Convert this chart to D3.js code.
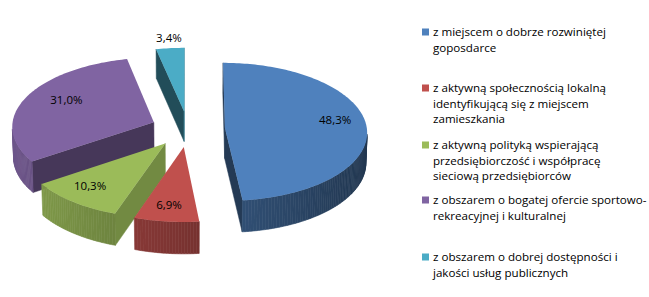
<!DOCTYPE html>
<html>
<head>
<meta charset="utf-8">
<script src="https://cdn.jsdelivr.net/npm/d3@7"></script>
<style>
  body { margin: 0; background: #fff; }
  svg { display: block; font-family: "Open Sans", "Liberation Sans", sans-serif; }
</style>
</head>
<body>
<script>
// data
const categories = [
    ["z miejscem o dobrze rozwiniętej", "goposdarce"],
    ["z aktywną społecznością lokalną", "identyfikującą się z miejscem", "zamieszkania"],
    ["z aktywną polityką wspierającą", "przedsiębiorczość i współpracę", "sieciową przedsiębiorców"],
    ["z obszarem o bogatej ofercie sportowo-", "rekreacyjnej i kulturalnej"],
    ["z obszarem o dobrej dostępności i", "jakości usług publicznych"]
];
const values = [48.3, 6.9, 10.3, 31.0, 3.4];
const labels = ["48,3%", "6,9%", "10,3%", "31,0%", "3,4%"];
const colors = ["#4F81BD", "#C0504D", "#9BBB59", "#8064A2", "#4BACC6"];

const width = 649, height = 297;

// 3d view settings
const R = 142, H = 35, D = 2300, explode = 37;
const phi = 29 * Math.PI / 180;
const cx = 188, cy = 129;

const svg = d3.select("body").append("svg")
    .attr("width", width)
    .attr("height", height);

const arcs = d3.pie().sort(null).value(d => d)(values);

function proj(x, y, z) {
    const depth = D - (y * Math.sin(phi) + z * Math.cos(phi));
    const s = D / depth;
    return [cx + x * s, cy - (y * Math.cos(phi) - z * Math.sin(phi)) * s];
}

function shade(c, k) {
    const col = d3.rgb(c);
    return d3.rgb(col.r * k, col.g * k, col.b * k).formatHex();
}

const camera = [0, D * Math.sin(phi), D * Math.cos(phi)];

arcs.forEach((a, i) => {
    const m = (a.startAngle + a.endAngle) / 2;
    a.index = i;
    a.ox = explode * Math.sin(m);
    a.oz = -explode * Math.cos(m);
    // depth of the slice centre, used to paint back to front
    a.cz = a.oz - R * 0.5 * Math.cos(m);
});

const order = arcs.slice().sort((a, b) => a.cz - b.cz);

const line = d3.line();
const g = svg.append("g");

order.forEach(a => {
    const col = colors[a.index];
    const pt = (t, r, y) => proj(a.ox + r * Math.sin(t), y, a.oz - r * Math.cos(t));
    const sg = g.append("g");

    // radial walls
    [[a.startAngle, -1], [a.endAngle, 1]].forEach(([t, side]) => {
        const nx = side < 0 ? -Math.cos(t) : Math.cos(t);
        const nz = side < 0 ? -Math.sin(t) : Math.sin(t);
        const vis = (camera[0] - a.ox) * nx + (camera[2] - a.oz) * nz;
        if (vis <= 0) return;
        const k = 0.45 + 0.32 * Math.pow(Math.max(0, nx), 2);
        sg.append("path")
            .attr("d", line([pt(t, 0, 0), pt(t, R, 0), pt(t, R, -H), pt(t, 0, -H)]) + "Z")
            .attr("fill", shade(col, k))
            .attr("stroke", shade(col, k))
            .attr("stroke-width", 0.5);
    });

    // outer wall in small pieces
    const n = Math.max(2, Math.ceil((a.endAngle - a.startAngle) / 0.02));
    for (let j = 0; j < n; j++) {
        const t0 = a.startAngle + (a.endAngle - a.startAngle) * j / n;
        const t1 = a.startAngle + (a.endAngle - a.startAngle) * (j + 1) / n;
        const tm = (t0 + t1) / 2;
        const nx = Math.sin(tm), nz = -Math.cos(tm);
        const px = a.ox + R * nx, pz = a.oz + R * nz;
        const vis = (camera[0] - px) * nx + (camera[2] - pz) * nz;
        if (vis <= 0) continue;
        const k = 0.635 - 0.215 * Math.sin(tm);
        sg.append("path")
            .attr("d", line([pt(t0, R, 0), pt(t1, R, 0), pt(t1, R, -H), pt(t0, R, -H)]) + "Z")
            .attr("fill", shade(col, k))
            .attr("stroke", shade(col, k))
            .attr("stroke-width", 0.6);
    }

    // top face
    const top = [pt(0, 0, 0)];
    for (let j = 0; j <= n; j++) {
        const t = a.startAngle + (a.endAngle - a.startAngle) * j / n;
        top.push(pt(t, R, 0));
    }
    sg.append("path")
        .attr("d", line(top) + "Z")
        .attr("fill", col);
});

// data labels, placed along the middle of each slice
const labelR = [0.78, 0.85, 0.82, 0.68, 1.09];
arcs.forEach((a, i) => {
    const m = (a.startAngle + a.endAngle) / 2;
    const r = R * labelR[i];
    const p = proj(a.ox + r * Math.sin(m), 0, a.oz - r * Math.cos(m));
    svg.append("text")
        .attr("x", p[0])
        .attr("y", p[1] - 5)
        .attr("dy", "0.35em")
        .attr("text-anchor", "middle")
        .attr("font-size", "11.5px")
        .attr("fill", "#000")
        .text(labels[i]);
});

// legend
const legendY = [32, 88, 145, 200, 257];
const legend = svg.append("g").attr("transform", "translate(422,0)");
categories.forEach((lines, i) => {
    const item = legend.append("g").attr("transform", `translate(0,${legendY[i]})`);
    item.append("rect")
        .attr("x", 0).attr("y", -3.5)
        .attr("width", 7).attr("height", 7)
        .attr("fill", colors[i]);
    lines.forEach((t, j) => {
        item.append("text")
            .attr("x", 11)
            .attr("y", j * 15.5)
            .attr("dy", "0.35em")
            .attr("font-size", "11.6px")
            .attr("fill", "#000")
            .text(t);
    });
});
</script>
</body>
</html>
